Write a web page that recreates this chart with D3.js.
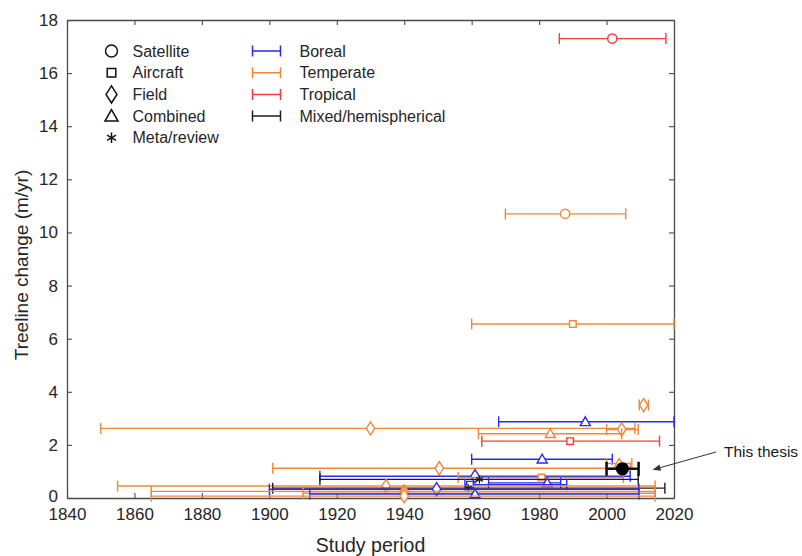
<!DOCTYPE html>
<html>
<head>
<meta charset="utf-8">
<script src="https://cdn.jsdelivr.net/npm/d3@7"></script>
<style>
  body { margin: 0; background: #fff; }
  svg { display: block; font-family: "Liberation Sans", Arial, sans-serif; }
</style>
</head>
<body>
<svg id="chart" width="802" height="556"></svg>
<script>
// ---- Published treeline advance rates: study period and rate ----
const startYear = [1986, 1970, 1960, 2009.7, 1968, 1850, 2000, 1962, 1963, 1960, 2000, 1901,
                   1915, 1956, 1915, 1965, 1958, 1855, 1901, 1900, 1865, 1910, 1912, 1865];
const endYear   = [2017.6, 2005.7, 2020, 2012.4, 2020, 2008.4, 2009.4, 2004.5, 2015.7, 2001.7, 2007.5, 2007,
                   2007, 2005, 2009.4, 1986.4, 1988.2, 2014.4, 2017.3, 2009.6, 2014.4, 2014.4, 2009.6, 2014.4];
const midYear   = [2001.7, 1987.7, 1990, 2011, 1993.7, 1930, 2004.5, 1983.3, 1989.2, 1980.9, 2003.8, 1950.4,
                   1961, 1980.7, 1962.3, 1982.4, 1959.5, 1934.6, 1959, 1949.6, 1940, 1940, 1961, 1940];
const rate      = [17.3, 10.7, 6.55, 3.5, 2.87, 2.62, 2.58, 2.42, 2.14, 1.46, 1.3, 1.12,
                   0.82, 0.77, 0.7, 0.57, 0.5, 0.45, 0.37, 0.33, 0.25, 0.18, 0.15, 0.07];
const method    = ["Satellite", "Satellite", "Aircraft", "Field", "Combined", "Field", "Field", "Combined",
                   "Aircraft", "Combined", "Combined", "Field", "Field", "Aircraft", "Meta/review", "Combined",
                   "Aircraft", "Field", "Meta/review", "Field", "Field", "Field", "Combined", "Field"];
const biome     = ["Tropical", "Temperate", "Temperate", "Temperate", "Boreal", "Temperate", "Temperate", "Temperate",
                   "Tropical", "Boreal", "Temperate", "Temperate", "Boreal", "Temperate", "Mixed/hemispherical", "Boreal",
                   "Boreal", "Temperate", "Mixed/hemispherical", "Boreal", "Temperate", "Temperate", "Boreal", "Temperate"];

// This study's own estimate
const thesisPeriod = [2000, 2009.5];
const thesisMid = 2004.7;
const thesisRate = 1.1;

// Legend categories and axis ticks
const methods = ["Satellite", "Aircraft", "Field", "Combined", "Meta/review"];
const biomes = ["Boreal", "Temperate", "Tropical", "Mixed/hemispherical"];
const xTicks = [1840, 1860, 1880, 1900, 1920, 1940, 1960, 1980, 2000, 2020];
const yTicks = [0, 2, 4, 6, 8, 10, 12, 14, 16, 18];

const biomeColor = d3.scaleOrdinal()
  .domain(biomes)
  .range(["#2a2af5", "#f0883a", "#f23b3b", "#1e1e1e"]);

// ---- Layout ----
const svg = d3.select("#chart");
const W = 802, H = 556;
const margin = { top: 20, right: 128, bottom: 58, left: 67 };

const x = d3.scaleLinear().domain([1840, 2020]).range([margin.left, W - margin.right]);
const y = d3.scaleLinear().domain([0, 18]).range([H - margin.bottom, margin.top]);

const axisColor = "#4a4a4a";
const textColor = "#262626";

// Marker shapes, centred at the origin
function markerPath(m, s = 1) {
  switch (m) {
    case "Satellite": {
      const r = 4.6 * s;
      return `M${r},0A${r},${r} 0 1,1 ${-r},0A${r},${r} 0 1,1 ${r},0Z`;
    }
    case "Aircraft": {
      const a = 3.3 * s;
      return `M${-a},${-a}H${a}V${a}H${-a}Z`;
    }
    case "Field": {
      const w = 4.2 * s, h = 6.6 * s;
      return `M0,${-h}L${w},0L0,${h}L${-w},0Z`;
    }
    case "Combined": {
      const w = 5 * s, h = 4.4 * s;
      return `M0,${-h - 0.6 * s}L${w},${h - 0.6 * s}H${-w}Z`;
    }
    default: {
      const r = 4 * s, c = r * Math.cos(Math.PI / 6), d = r * Math.sin(Math.PI / 6);
      return `M0,${-r}V${r}M${-c},${-d}L${c},${d}M${-c},${d}L${c},${-d}`;
    }
  }
}

// ---- Axes (boxed, ticks pointing inwards) ----
const gx = svg.append("g")
  .attr("transform", `translate(0,${y(0)})`)
  .call(d3.axisBottom(x).tickValues(xTicks).tickFormat(d3.format("d"))
    .tickSizeInner(-5).tickSizeOuter(0).tickPadding(10));
const gy = svg.append("g")
  .attr("transform", `translate(${x(1840)},0)`)
  .call(d3.axisLeft(y).tickValues(yTicks).tickSizeInner(-5).tickSizeOuter(0).tickPadding(9));
const gxTop = svg.append("g")
  .attr("transform", `translate(0,${y(18)})`)
  .call(d3.axisTop(x).tickValues(xTicks).tickFormat("").tickSizeInner(-5).tickSizeOuter(0));
const gyRight = svg.append("g")
  .attr("transform", `translate(${x(2020)},0)`)
  .call(d3.axisRight(y).tickValues(yTicks).tickFormat("").tickSizeInner(-5).tickSizeOuter(0));

[gx, gy, gxTop, gyRight].forEach(g => {
  g.select(".domain").attr("stroke", axisColor).attr("stroke-width", 1.3);
  g.selectAll(".tick line").attr("stroke", axisColor).attr("stroke-width", 1.1);
  g.selectAll(".tick text").attr("fill", textColor).style("font-size", "17px")
    .style("font-family", '"Liberation Sans", Arial, sans-serif');
});
// lift the bottom-most y label slightly so it clears the year labels
gy.selectAll(".tick").filter(d => d === 0).select("text").attr("dy", "0.2em");

svg.append("text")
  .attr("x", (x(1840) + x(2020)) / 2).attr("y", 552)
  .attr("text-anchor", "middle").attr("fill", textColor).style("font-size", "19.5px")
  .text("Study period");
svg.append("text")
  .attr("transform", `translate(28,${(y(0) + y(18)) / 2 + 6}) rotate(-90)`)
  .attr("text-anchor", "middle").attr("fill", textColor).style("font-size", "19px")
  .text("Treeline change (m/yr)");

// ---- Error bars for each study ----
const idx = d3.range(rate.length);
const capH = 5.5;
const bars = svg.append("g").attr("fill", "none").attr("stroke-width", 1.4);

const studyG = bars.selectAll("g.study").data(idx).join("g")
  .attr("class", "study")
  .attr("stroke", i => biomeColor(biome[i]));

studyG.append("line")
  .attr("x1", i => x(startYear[i])).attr("x2", i => x(endYear[i]))
  .attr("y1", i => y(rate[i])).attr("y2", i => y(rate[i]));
studyG.append("line")
  .attr("x1", i => x(startYear[i])).attr("x2", i => x(startYear[i]))
  .attr("y1", i => y(rate[i]) - capH).attr("y2", i => y(rate[i]) + capH);
studyG.append("line")
  .attr("x1", i => x(endYear[i])).attr("x2", i => x(endYear[i]))
  .attr("y1", i => y(rate[i]) - capH).attr("y2", i => y(rate[i]) + capH);
studyG.append("path")
  .attr("transform", i => `translate(${x(midYear[i])},${y(rate[i])})`)
  .attr("d", i => markerPath(method[i]))
  .attr("fill", i => method[i] === "Meta/review" ? "none" : "#fff")
  .attr("stroke-width", i => method[i] === "Meta/review" ? 1.3 : 1.4);

// ---- This thesis ----
const th = svg.append("g").attr("stroke", "#111").attr("stroke-width", 2.6);
th.append("line")
  .attr("x1", x(thesisPeriod[0])).attr("x2", x(thesisPeriod[1]))
  .attr("y1", y(thesisRate)).attr("y2", y(thesisRate));
thesisPeriod.forEach(t => th.append("line")
  .attr("x1", x(t)).attr("x2", x(t))
  .attr("y1", y(thesisRate) - 7).attr("y2", y(thesisRate) + 7));
th.append("circle")
  .attr("cx", x(thesisMid)).attr("cy", y(thesisRate)).attr("r", 6.6)
  .attr("fill", "#000").attr("stroke", "none");

// Annotation arrow pointing at the thesis estimate
const tipX = x(thesisPeriod[1]) + 14, tipY = y(thesisRate) + 1;
const tailX = 716, tailY = 452;
const ang = Math.atan2(tipY - tailY, tipX - tailX);
const ah = 8, aw = 3.2;
svg.append("line")
  .attr("x1", tailX).attr("y1", tailY)
  .attr("x2", tipX - Math.cos(ang) * ah * 0.8).attr("y2", tipY - Math.sin(ang) * ah * 0.8)
  .attr("stroke", "#333").attr("stroke-width", 1);
svg.append("path")
  .attr("d", `M${tipX},${tipY}` +
    `L${tipX - Math.cos(ang) * ah - Math.sin(ang) * aw},${tipY - Math.sin(ang) * ah + Math.cos(ang) * aw}` +
    `L${tipX - Math.cos(ang) * ah + Math.sin(ang) * aw},${tipY - Math.sin(ang) * ah - Math.cos(ang) * aw}Z`)
  .attr("fill", "#333");
svg.append("text")
  .attr("x", 724).attr("y", 457)
  .attr("fill", "#1a1a1a").style("font-size", "15.5px")
  .text("This thesis");

// ---- Legends ----
const legRowY = d => 51 + d * 21.7;
const legM = svg.append("g");
methods.forEach((m, k) => {
  legM.append("path")
    .attr("transform", `translate(111.5,${legRowY(k)})`)
    .attr("d", markerPath(m, 1.3))
    .attr("fill", "none").attr("stroke", "#111").attr("stroke-width", 1.5);
  legM.append("text")
    .attr("x", 132.5).attr("y", legRowY(k) + 5.5)
    .attr("fill", textColor).style("font-size", "16px")
    .text(m);
});
const legB = svg.append("g").attr("stroke-width", 1.5);
biomes.forEach((b, k) => {
  const c = biomeColor(b), yy = legRowY(k);
  legB.append("path")
    .attr("d", `M252.5,${yy}H280.5M252.5,${yy - 5.5}V${yy + 5.5}M280.5,${yy - 5.5}V${yy + 5.5}`)
    .attr("stroke", c).attr("fill", "none");
  legB.append("text")
    .attr("x", 299.5).attr("y", yy + 5.5)
    .attr("fill", textColor).attr("stroke", "none").style("font-size", "16px")
    .text(b);
});
</script>
</body>
</html>
